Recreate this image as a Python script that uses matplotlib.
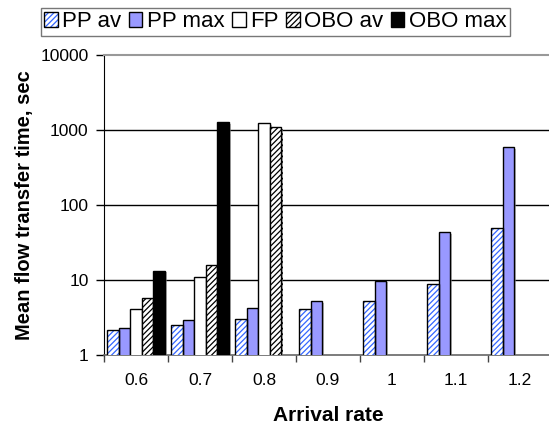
import numpy as np
import matplotlib
matplotlib.use("Agg")
import matplotlib.pyplot as plt
import matplotlib.patheffects as pe
from matplotlib.patches import Patch
from matplotlib.legend_handler import HandlerTuple
from matplotlib.ticker import FixedLocator, FixedFormatter, NullLocator

plt.rcParams['font.family'] = ['Liberation Sans', 'DejaVu Sans']
plt.rcParams['hatch.linewidth'] = 0.9

rates = ['0.6', '0.7', '0.8', '0.9', '1', '1.1', '1.2']
nan = np.nan
pp_av = [2.15, 2.5, 3.0, 4.1, 5.25, 8.9, 49]
pp_max = [2.3, 2.9, 4.2, 5.2, 9.8, 43, 590]
fp = [4.1, 11, 1230, nan, nan, nan, nan]
obo_av = [5.75, 16, 1090, nan, nan, nan, nan]
obo_max = [13.3, 1280, nan, nan, nan, nan, nan]

blue_hatch = '#3366ff'
pp_fill = '#9999ff'

fig = plt.figure(figsize=(5.49, 4.25), dpi=100)
ax = fig.add_axes([104/549, 70/425, 448/549, 300/425])

x = np.arange(len(rates))
w = 0.18
shadow = [pe.SimplePatchShadow(offset=(1.5, -1.2), shadow_rgbFace='#888888', alpha=0.6), pe.Normal()]

# PP av: blue hatch, black edge drawn on top
ax.bar(x - 2*w, pp_av, w, color='white', edgecolor=blue_hatch, hatch='//////', linewidth=0, zorder=3,
       path_effects=shadow)
ax.bar(x - 2*w, pp_av, w, color='none', edgecolor='black', linewidth=1, zorder=4)
ax.bar(x - w, pp_max, w, color=pp_fill, edgecolor='black', linewidth=1, zorder=3, path_effects=shadow)
ax.bar(x, fp, w, color='white', edgecolor='black', linewidth=1, zorder=3, path_effects=shadow)
ax.bar(x + w, obo_av, w, color='white', edgecolor='black', hatch='//////', linewidth=1, zorder=3,
       path_effects=shadow)
ax.bar(x + 2*w, obo_max, w, color='black', edgecolor='black', linewidth=1, zorder=3, path_effects=shadow)

ax.set_yscale('log')
ax.set_ylim(1, 10000)
ax.set_xlim(-0.5, len(rates) - 0.5)
ax.yaxis.set_major_locator(FixedLocator([1, 10, 100, 1000, 10000]))
ax.yaxis.set_major_formatter(FixedFormatter(['1', '10', '100', '1000', '10000']))
ax.yaxis.set_minor_locator(NullLocator())
for yv in [10, 100, 1000]:
    ax.axhline(yv, color='black', linewidth=1, zorder=1)

ax.set_xticks(np.arange(len(rates) + 1) - 0.5)
ax.set_xticklabels([])
ax.set_xticks(x, minor=True)
ax.set_xticklabels(rates, minor=True)
ax.tick_params(axis='x', which='major', length=5, width=1, color='#444444', direction='out')
ax.tick_params(axis='x', which='minor', length=0, pad=13, labelsize=12.5)
ax.tick_params(axis='y', which='major', length=6, width=1, pad=5, labelsize=12.5, direction='out')

ax.spines['left'].set_color('black')
ax.spines['top'].set_color('#999999')
ax.spines['top'].set_linewidth(1.5)
ax.spines['bottom'].set_color('#666666')
ax.spines['bottom'].set_linewidth(1.2)
ax.spines['right'].set_visible(False)

fig.text(25/549, 1 - 205/425, 'Mean flow transfer time, sec', rotation=90, ha='center', va='center',
         fontsize=14.5, fontweight='bold')
fig.text(328/549, 1 - 421/425, 'Arrival rate', ha='center', va='baseline', fontsize=15, fontweight='bold')

h_ppav = (Patch(facecolor='white', edgecolor=blue_hatch, hatch='//////', linewidth=0),
          Patch(facecolor='none', edgecolor='black', linewidth=1))
h_ppmax = Patch(facecolor=pp_fill, edgecolor='black', linewidth=1)
h_fp = Patch(facecolor='white', edgecolor='black', linewidth=1)
h_oboav = Patch(facecolor='white', edgecolor='black', hatch='//////', linewidth=1)
h_obomax = Patch(facecolor='black', edgecolor='black', linewidth=1)
leg = fig.legend([h_ppav, h_ppmax, h_fp, h_oboav, h_obomax],
                 ['PP av', 'PP max', 'FP', 'OBO av', 'OBO max'],
                 handler_map={tuple: HandlerTuple(ndivide=1, pad=0)},
                 loc='upper left', bbox_to_anchor=(41/549, 1 - 8/425), ncol=5, fontsize=16,
                 frameon=True, fancybox=False, edgecolor='#555555', borderpad=0.15,
                 handlelength=0.6, handleheight=0.6, handletextpad=0.2, columnspacing=0.35,
                 borderaxespad=0)
leg.get_frame().set_linewidth(1)

fig.savefig('out.png', dpi=100)
